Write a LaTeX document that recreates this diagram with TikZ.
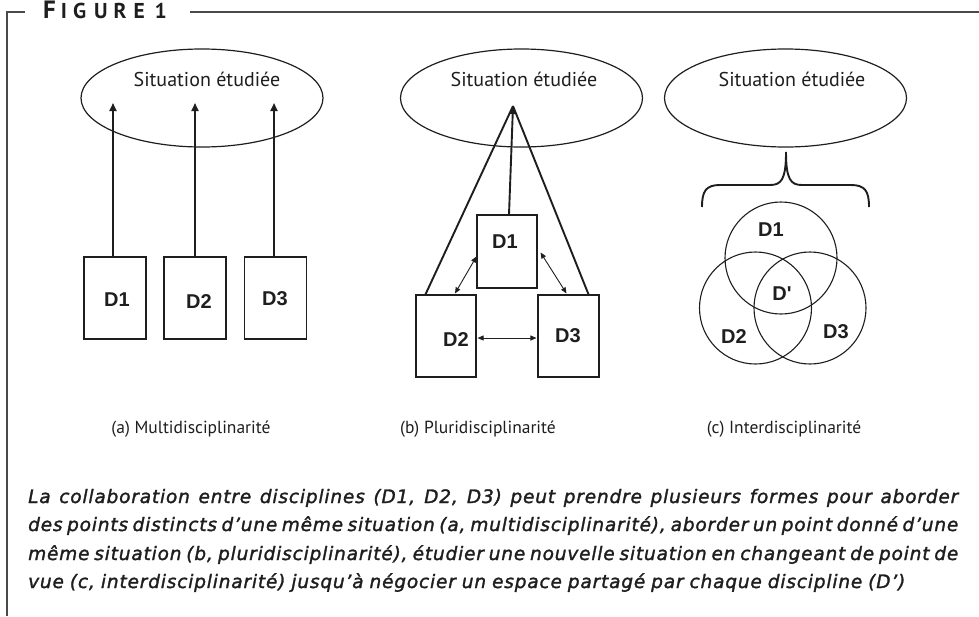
\documentclass[tikz,border=0pt]{standalone}
\usepackage{fontspec}
\setmainfont{PT Sans}
\newfontfamily\arialf{Liberation Sans}
\newfontfamily\capfont{DejaVu Sans}[LetterSpace=4.5,FakeBold=1.6]
\usetikzlibrary{shapes.geometric,arrows.meta,calc}
\definecolor{ink}{HTML}{1E1E1E}
\definecolor{frame}{HTML}{4A4A4A}
\begin{document}
\begin{tikzpicture}[x=1pt,y=-1pt,
  ell/.style={draw=ink,line width=1.2pt,ellipse,minimum width=242pt,minimum height=98pt,inner sep=0pt},
  sit/.style={anchor=base,font=\fontsize{20}{20}\selectfont,text=ink,inner sep=0pt},
  disc/.style={draw=ink,line width=1.1pt,inner sep=0pt,minimum width=62pt,minimum height=82pt},
  dlab/.style={font=\arialf\bfseries\fontsize{20}{20}\selectfont,text=ink,inner sep=0pt},
  mainline/.style={draw=ink,line width=1.9pt},
  mainarr/.style={mainline,-{Triangle[length=8pt,width=7pt]}},
  dbl/.style={draw=ink,line width=0.9pt,{Triangle[length=6pt,width=5pt]}-{Triangle[length=6pt,width=5pt]}},
  circ/.style={draw=ink,line width=1.1pt,circle,minimum size=112pt,inner sep=0pt},
  sub/.style={anchor=base,font=\fontsize{17.5}{17.5}\selectfont,text=ink,inner sep=0pt},
  capline/.style={anchor=base west,font=\capfont\itshape\fontsize{18.5}{18.5}\selectfont,text=ink,inner sep=0pt},
  framel/.style={draw=frame,line width=1.3pt}
]
\useasboundingbox (0,0) rectangle (979,616);

% frame and title
\node[anchor=base west,inner sep=0pt,text=ink,font=\bfseries] (title) at (43,18)
  {\fontsize{25}{25}\selectfont F\hspace{5pt}\fontsize{21.5}{21.5}\selectfont I\hspace{6pt}G\hspace{8pt}U\hspace{6pt}R\hspace{7pt}E\hspace{10pt}1};
\coordinate (fbot) at (7,616);
\coordinate (ftl) at (7,12);
\coordinate (ftm) at (25,12);
\coordinate (ftr) at (190,12);
\coordinate (fend) at (979,12);
\draw[framel] (fbot) -- (ftl) -- (ftm);
\draw[framel] (ftr) -- (fend);

% ---------- panel (a)
\node[ell] (Ea) at (202,98) {};
\node[sit] (Sa) at (207,86) {Situation étudiée};
\node[disc] (A1) at (115,298) {};
\node[disc] (A2) at (195,298) {};
\node[disc] (A3) at (275.5,298) {};
\node[dlab] (LA1) at (117,300) {D1};
\node[dlab] (LA2) at (199,302) {D2};
\node[dlab] (LA3) at (275,299) {D3};
\coordinate (tipy) at (0,103);
\draw[mainarr] ($(A1.north)+(-2,0)$) -- ($(A1.north |- tipy)+(-2,0)$);
\draw[mainarr] (A2.north) -- (A2.north |- tipy);
\draw[mainarr] ($(A3.north)+(-1.5,0)$) -- ($(A3.north |- tipy)+(-1.5,0)$);

% ---------- panel (b)
\node[ell] (Eb) at (521.5,98) {};
\node[sit] (Sb) at (524,86) {Situation étudiée};
\node[disc,minimum width=60pt,minimum height=73pt] (B1) at (507,251.5) {};
\node[disc,minimum width=60pt,minimum height=82pt] (B2) at (446,336) {};
\node[disc,minimum width=61pt,minimum height=82pt] (B3) at (568.5,336) {};
\node[dlab] (LB1) at (505,242) {D1};
\node[dlab] (LB2) at (456,340) {D2};
\node[dlab] (LB3) at (568,336) {D3};
\coordinate (apex) at (513,106);
\draw[mainline] ($(B2.north west)+(10,0)$) -- (apex);
\draw[mainline] ($(B3.north east)+(-11,0)$) -- (apex);
\draw[mainarr] ($(B1.north)+(2,0)$) -- (apex);
\draw[dbl] ($(B1.west)+(0,5)$) -- ($(B2.north)+(9,-1)$);
\draw[dbl] ($(B1.east)+(3,1)$) -- ($(B3.north)+(-2,-1)$);
\draw[dbl] ($(B2.east)+(1,2)$) -- ($(B3.west)+(-1,2)$);

% ---------- panel (c)
\node[ell] (Ec) at (785.5,98) {};
\node[sit] (Sc) at (792,86) {Situation étudiée};
\coordinate (brL) at (702,207);
\coordinate (brR) at (869,207);
\coordinate (brT) at (786,152);
\draw[draw=ink,line width=1.9pt] (brL) .. controls (702,191) and (706,185) .. (720,185)
   -- (770,185) .. controls (781,185) and (786,180) .. (brT)
   .. controls (786,180) and (791,185) .. (802,185)
   -- (851,185) .. controls (865,185) and (869,191) .. (brR);
\node[circ] (C1) at (781,258) {};
\node[circ] (C2) at (755.5,308) {};
\node[circ] (C3) at (810,308) {};
\node[dlab] (LC1) at (771,230) {D1};
\node[dlab] (LCp) at (782,294) {D'};
\node[dlab] (LC2) at (734,337) {D2};
\node[dlab] (LC3) at (836,332) {D3};

% ---------- sub captions
\node[sub] (ca) at (191,433) {(a) Multidisciplinarité};
\node[sub] (cb) at (478,433) {(b) Pluridisciplinarité};
\node[sub] (cc) at (784,433) {(c) Interdisciplinarité};

% ---------- caption
\node[capline] (L1) at (28,503) {\makebox[930pt][s]{La collaboration entre disciplines (D1, D2, D3) peut prendre plusieurs formes pour aborder}};
\node[capline] (L2) at (28,531) {\makebox[930pt][s]{des points distincts d’une même situation (a, multidisciplinarité), aborder un point donné d’une}};
\node[capline] (L3) at (28,560) {\makebox[930pt][s]{même situation (b, pluridisciplinarité), étudier une nouvelle situation en changeant de point de}};
\node[capline] (L4) at (28,588) {\makebox[877pt][s]{vue (c, interdisciplinarité) jusqu’à négocier un espace partagé par chaque discipline (D’)}};
\end{tikzpicture}
\end{document}
